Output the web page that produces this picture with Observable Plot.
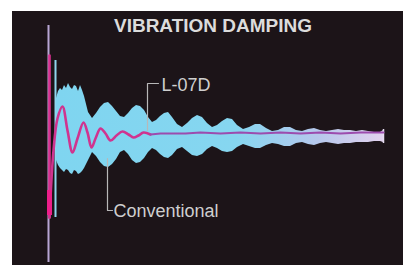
<!DOCTYPE html>
<html><head><meta charset="utf-8">
<script src="https://cdn.jsdelivr.net/npm/d3@7"></script>
<script src="https://cdn.jsdelivr.net/npm/@observablehq/plot@0.6"></script>
<style>
html,body{margin:0;padding:0;background:#fff;overflow:hidden;width:403px;height:265px}
#panel{position:absolute;left:12px;top:11px;width:391px;height:254px;background:#1c1418}
#title{position:absolute;left:0;top:16px;width:426px;text-align:center;font:bold 19px "Liberation Sans",Arial,sans-serif;line-height:19px;color:#dcdcdc}
</style></head><body>
<div id="panel"></div>
<div id="title">VIBRATION DAMPING</div>
<script>
// Conventional: envelope of the decaying vibration (time in samples, amplitude units)
const convT  = [8,10,12,14,16,18,20,22,24,26,28,30,32,34,36,40,44,48,52,56,60,64,68,72,76,80,84,88,92,96,100,104,108,112,116,120,124,129,134,139,144,149,154,159,164,169,174,179,184,189,195,201,207,212,218,224,230,236,242,248,254,260,266,272,278,284,290,296,302,308,314,320,326,332,335];
const convHi = [37,44,47,45,50,47,52,48,46,50,49,44,50,45,39,23,17,22,28,32,33,29,24,19,18,22,27,30,29,25,18,13,15,19,22,23,18,11,8,12,17,20,18,12,8,10,14,17,16,10,6,8,11,11,7,4,5,8,8,5,4,6,7,5,4,5,6,5,5,4,5,4,3,3,5];
const convLo = [-25,-30,-33,-35,-37,-34,-35,-38,-39,-35,-36,-39,-38,-36,-33,-25,-17,-21,-27,-31,-32,-29,-24,-17,-15,-19,-25,-28,-27,-23,-17,-13,-15,-19,-22,-23,-20,-14,-12,-16,-20,-21,-19,-14,-11,-13,-16,-17,-16,-12,-9,-11,-13,-13,-10,-8,-9,-11,-11,-8,-7,-9,-10,-8,-7,-8,-9,-8,-8,-7,-7,-7,-6,-6,-7];
// L-07D: initial impact, then damped response
const spikeT = [1,1];
const spikeA = [80,-82];
const l07T = [1,5,9,14,19,24,29,35,39,43,47,52,57,62,68,74,80,85,90,95,102];
const l07A = [-82,-15,17,29,5,-17,-3,13,3,-12,-3,7,2,-5,0,4,1,-2,0,3,1];
const l07TailT = [102,112,122,137,152,172,192,212,232,252,272,292,312,335];
const l07TailA = [1,2,2,2,3,2,3,2,3,2,3,2,3,3];
// labels and leaders
const labels = ["L-07D", "Conventional"];
const labelT = [113, 65];
const labelA = [50, -76];
const leaderL07 = [{t:110,a:52},{t:99,a:52},{t:99,a:5}];
const leaderConv = [{t:59,a:-23},{t:59,a:-75},{t:64,a:-75}];

const conv = convT.map((t,i)=>({t, hi:convHi[i], lo:convLo[i]}));
const spike = spikeT.map((t,i)=>({t, a:spikeA[i]}));
const l07 = l07T.map((t,i)=>({t, a:l07A[i]}));
const l07Tail = l07TailT.map((t,i)=>({t, a:l07TailA[i]}));
const lab = labels.map((s,i)=>({s, t:labelT[i], a:labelA[i]}));

const chart = Plot.plot({
  width: 391, height: 254,
  marginLeft: 36, marginRight: 20, marginTop: 0, marginBottom: 0,
  x: {domain: [0, 335], axis: null},
  y: {domain: [-130, 124], axis: null},
  style: {background: "transparent", overflow: "visible"},
  marks: [
    Plot.ruleX([0], {y1: 110, y2: -127, stroke: "#b8a6d4", strokeWidth: 2}),
    Plot.ruleX([7], {y1: 75, y2: -82, stroke: "#8fd6ee", strokeWidth: 2}),
    Plot.areaY(conv, {x: "t", y1: "lo", y2: "hi", fill: "url(#convGrad)"}),
    Plot.ruleX([335], {y1: -8, y2: 6, stroke: "#e6dcf0", strokeWidth: 1.5}),
    Plot.line(spike, {x: "t", y: "a", stroke: "#d8308f", strokeWidth: 2.6}),
    Plot.line(l07, {x: "t", y: "a", curve: "catmull-rom", stroke: "#d0348f", strokeWidth: 2.6, strokeLinejoin: "round"}),
    Plot.line(l07Tail, {x: "t", y: "a", stroke: "#9c4cae", strokeWidth: 2}),
    Plot.ruleX([1], {y1: -55, y2: -80, stroke: "#ec1e8a", strokeWidth: 5}),
    Plot.line(leaderL07, {x: "t", y: "a", stroke: "#b8b8b8", strokeWidth: 1.2}),
    Plot.line(leaderConv, {x: "t", y: "a", stroke: "#b8b8b8", strokeWidth: 1.2}),
    Plot.text(lab, {x: "t", y: "a", text: "s", textAnchor: "start", lineAnchor: "middle",
      fill: "#cfcfcf", fontSize: 18, fontFamily: "Liberation Sans, Arial, sans-serif"})
  ]
});
d3.select(chart).insert("defs", ":first-child").html(
  '<linearGradient id="convGrad" x1="0" x2="1" y1="0" y2="0">' +
  '<stop offset="0" stop-color="#7fd5f0"/><stop offset="0.55" stop-color="#86d6f0"/>' +
  '<stop offset="0.8" stop-color="#b6c8ec"/><stop offset="1" stop-color="#e2d2ee"/></linearGradient>');
chart.style.position = "absolute";
chart.style.left = "12px";
chart.style.top = "11px";
document.body.appendChild(chart);
</script>
</body></html>
